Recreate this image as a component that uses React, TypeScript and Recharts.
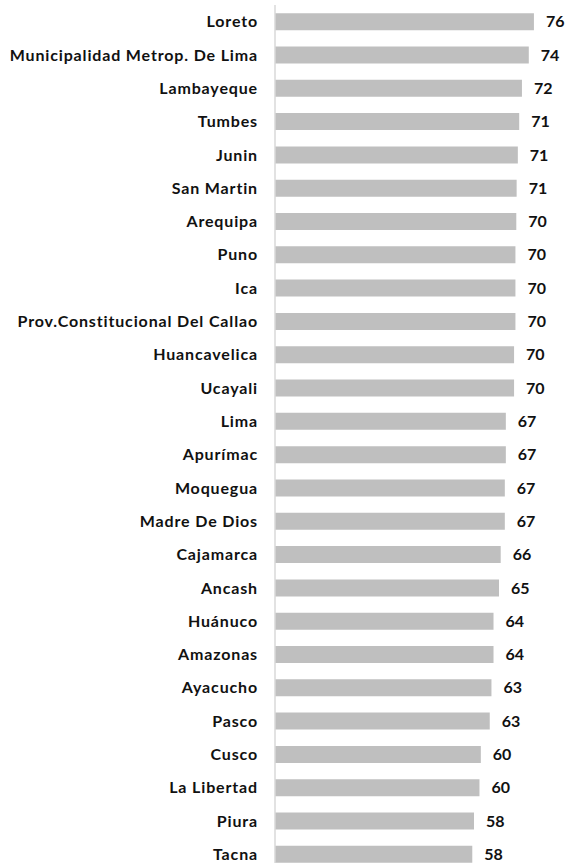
import React from "react";
import { BarChart, Bar, XAxis, YAxis, LabelList } from "recharts";

const regions = [
  "Loreto",
  "Municipalidad Metrop. De Lima",
  "Lambayeque",
  "Tumbes",
  "Junin",
  "San Martin",
  "Arequipa",
  "Puno",
  "Ica",
  "Prov.Constitucional Del Callao",
  "Huancavelica",
  "Ucayali",
  "Lima",
  "Apurímac",
  "Moquegua",
  "Madre De Dios",
  "Cajamarca",
  "Ancash",
  "Huánuco",
  "Amazonas",
  "Ayacucho",
  "Pasco",
  "Cusco",
  "La Libertad",
  "Piura",
  "Tacna",
];

const values = [
  75.6, 74.1, 72.1, 71.3, 70.9, 70.55, 70.45, 70.2, 70.2, 70.2, 69.8, 69.8,
  67.4, 67.4, 67.1, 67.1, 65.9, 65.4, 63.8, 63.8, 63.2, 62.7, 60.1, 59.7,
  58.1, 57.6,
];

const data = regions.map((name, i) => ({ name, value: values[i] }));

const FONT = "Lato, 'Open Sans', sans-serif";

export default function App() {
  return (
    <div
      style={{
        position: "absolute",
        top: 0,
        left: 0,
        width: 565,
        height: 863,
        overflow: "hidden",
        background: "#fff",
      }}
    >
      <BarChart
        width={565}
        height={880}
        data={data}
        layout="vertical"
        margin={{ top: 5, right: 16, bottom: 9, left: 0 }}
        barCategoryGap="24.5%"
      >
        <XAxis type="number" domain={[0, 80]} hide />
        <YAxis
          type="category"
          dataKey="name"
          width={275}
          tickSize={0}
          tickMargin={17}
          tickLine={false}
          axisLine={{ stroke: "#d9d9d9", strokeWidth: 1.5 }}
          interval={0}
          tick={{
            fill: "#111",
            fontSize: 16,
            fontWeight: 700,
            fontFamily: FONT,
            letterSpacing: 0.85,
          }}
        />
        <Bar dataKey="value" fill="#bfbfbf" isAnimationActive={false}>
          <LabelList
            dataKey="value"
            position="right"
            offset={12}
            formatter={(v: number) => String(Math.round(v))}
            style={{
              fill: "#111",
              fontSize: 16,
              fontWeight: 700,
              fontFamily: FONT,
            }}
          />
        </Bar>
      </BarChart>
    </div>
  );
}
